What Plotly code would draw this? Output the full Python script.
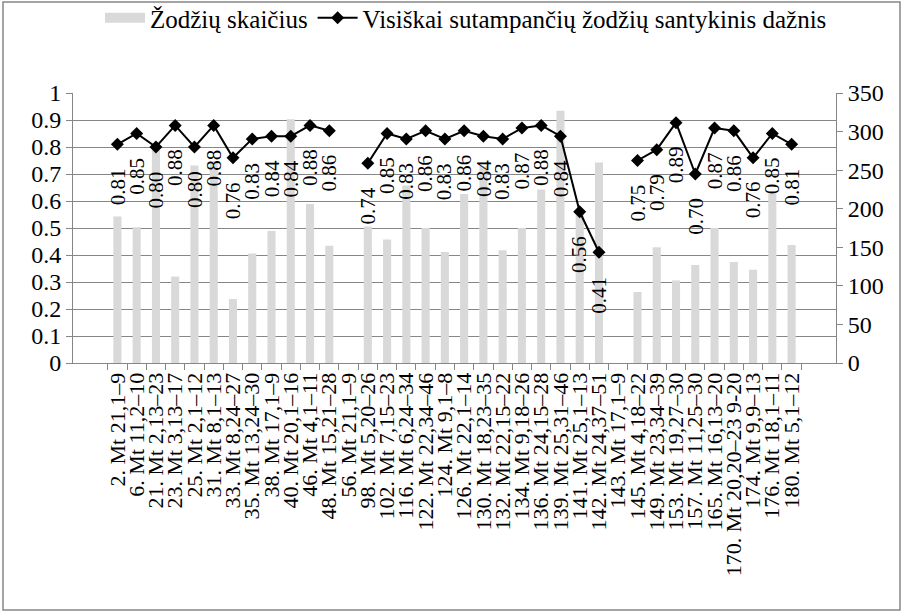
import plotly.graph_objects as go

categories = ["2. Mt 21,1–9", "6. Mt 11,2–10", "21. Mt 2,13–23", "23. Mt 3,13–17", "25. Mt 2,1–12",
              "31. Mt 8,1–13", "33. Mt 8,24–27", "35. Mt 13,24–30", "38. Mt 17,1–9", "40. Mt 20,1–16",
              "46. Mt 4,1–11", "48. Mt 15,21–28", "56. Mt 21,1–9", "98. Mt 5,20–26", "102. Mt 7,15–23",
              "116. Mt 6,24–34", "122. Mt 22,34–46", "124. Mt 9,1–8", "126. Mt 22,1–14", "130. Mt 18,23–35",
              "132. Mt 22,15–22", "134. Mt 9,18–26", "136. Mt 24,15–28", "139. Mt 25,31–46", "141. Mt 25,1–13",
              "142. Mt 24,37–51", "143. Mt 17,1–9", "145. Mt 4,18–22", "149. Mt 23,34–39", "153. Mt 19,27–30",
              "157. Mt 11,25–30", "165. Mt 16,13–20", "170. Mt 20,20–23 9-20", "174. Mt 9,9–13", "176. Mt 18,1–11",
              "180. Mt 5,1–12"]

word_count = [190, 176, 276, 112, 256, 262, 83, 142, 171, 316,
              206, 152, None, 177, 160, 230, 175, 144, 219, 255,
              146, 175, 225, 327, 195, 260, None, 92, 150, 107,
              127, 175, 131, 121, 220, 153]

match_freq = [0.81, 0.85, 0.80, 0.88, 0.80, 0.88, 0.76, 0.83, 0.84, 0.84,
              0.88, 0.86, None, 0.74, 0.85, 0.83, 0.86, 0.83, 0.86, 0.84,
              0.83, 0.87, 0.88, 0.84, 0.56, 0.41, None, 0.75, 0.79, 0.89,
              0.70, 0.87, 0.86, 0.76, 0.85, 0.81]

bar_name = "Žodžių skaičius"
line_name = "Visiškai sutampančių žodžių santykinis dažnis"

FONT = "Liberation Serif, Times New Roman, Times, serif"
GRID = "#868686"
BAR = "#d9d9d9"

fig = go.Figure()
fig.add_trace(go.Bar(x=categories, y=word_count, name=bar_name,
                     marker=dict(color=BAR, line=dict(width=0)),
                     showlegend=False, yaxis="y"))
# legend proxy so the bar key is drawn as a wide rectangle like the original
fig.add_trace(go.Scatter(x=[None], y=[None], name=bar_name, mode="lines",
                         line=dict(color=BAR, width=13), yaxis="y",
                         hoverinfo="skip"))
fig.add_trace(go.Scatter(x=categories, y=match_freq, name=line_name,
                         mode="lines+markers", connectgaps=False,
                         line=dict(color="black", width=2),
                         marker=dict(symbol="diamond", size=10, color="black"),
                         yaxis="y2"))

annotations = []
for c, v in zip(categories, match_freq):
    if v is None:
        continue
    annotations.append(dict(x=c, y=v, xref="x", yref="y2", text=f"{v:.2f}",
                            showarrow=False, textangle=-90, yanchor="top",
                            xanchor="center", yshift=-22,
                            font=dict(family=FONT, size=21, color="black")))

L, R, T, B = 73, 68, 93, 251
W, H = 904, 614
pw, ph = W - L - R, H - T - B

fig.update_layout(
    width=W, height=H,
    margin=dict(l=L, r=R, t=T, b=B, autoexpand=False),
    paper_bgcolor="white", plot_bgcolor="white",
    font=dict(family=FONT, size=21, color="black"),
    bargap=0.58,
    showlegend=True,
    legend=dict(orientation="h", x=(466 - L) / pw, xanchor="center",
                y=(H - B - 18) / ph, yanchor="middle",
                font=dict(family=FONT, size=25, color="black"),
                itemwidth=40, tracegroupgap=0, bgcolor="rgba(0,0,0,0)"),
    xaxis=dict(type="category", categoryorder="array", categoryarray=categories,
               tickmode="array", tickvals=categories, ticktext=categories,
               tickangle=-90, ticks="outside", tickson="boundaries", ticklen=6,
               tickcolor=GRID, showline=True, linecolor=GRID, linewidth=1,
               showgrid=False, automargin=False,
               tickfont=dict(family=FONT, size=22, color="black")),
    yaxis=dict(side="right", range=[0, 350], dtick=50, showgrid=False,
               ticks="outside", ticklen=6, tickcolor=GRID, showline=True,
               linecolor=GRID, linewidth=1, zeroline=False, automargin=False,
               tickfont=dict(family=FONT, size=24, color="black")),
    yaxis2=dict(side="left", overlaying="y", range=[0, 1], dtick=0.1,
                showgrid=True, gridcolor=GRID, gridwidth=1,
                ticks="outside", ticklen=6, tickcolor=GRID, showline=True,
                linecolor=GRID, linewidth=1, zeroline=False, automargin=False,
                tickfont=dict(family=FONT, size=24, color="black")),
    annotations=annotations,
    shapes=[dict(type="rect", xref="paper", yref="paper",
                 x0=(3 - L) / pw, x1=(900 - L) / pw,
                 y0=(H - B - 610) / ph, y1=(H - B - 2) / ph,
                 line=dict(color=GRID, width=1.5), fillcolor="rgba(0,0,0,0)",
                 layer="below")],
)

fig.write_html("out.html", config={"displayModeBar": False},
               post_script="document.body.style.margin='0';document.body.style.overflow='hidden';")
